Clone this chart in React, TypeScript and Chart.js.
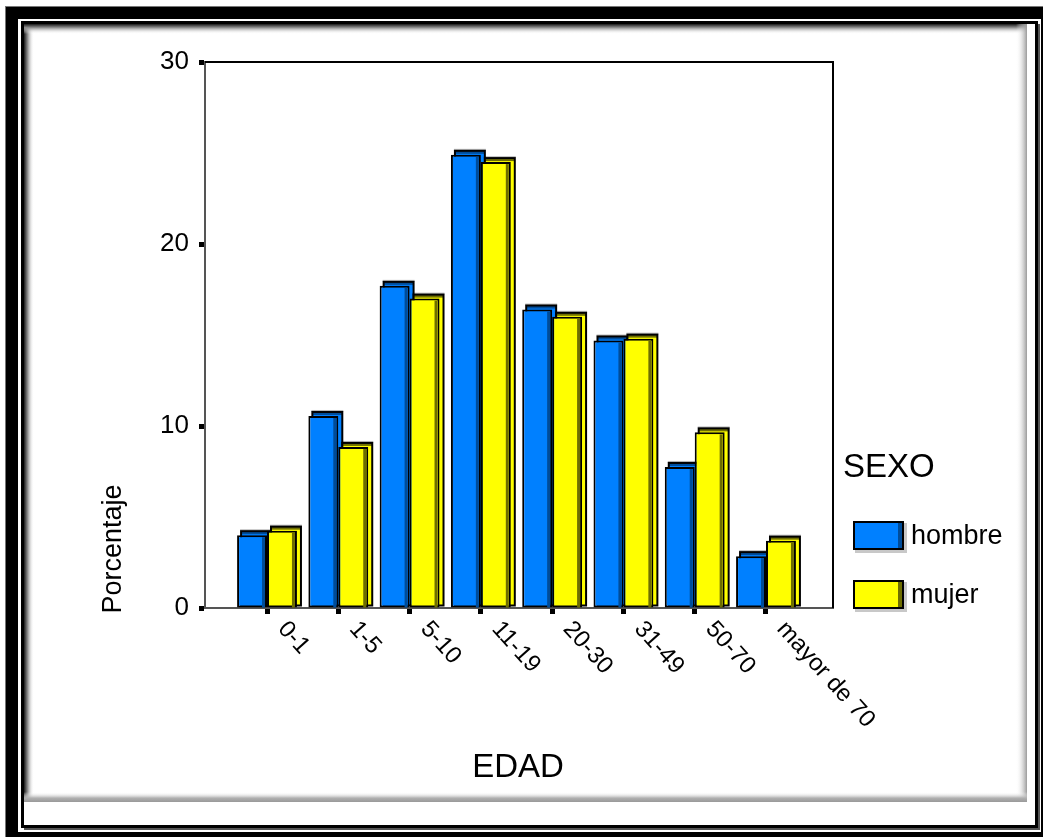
import { useEffect, useRef } from "react";
import { Chart, registerables } from "chart.js";

Chart.register(...registerables);

const categories = ["0-1", "1-5", "5-10", "11-19", "20-30", "31-49", "50-70", "mayor de 70"];
const hombre = [4.0, 10.55, 17.7, 24.9, 16.4, 14.7, 7.75, 2.85];
const mujer = [4.25, 8.85, 17.0, 24.5, 16.0, 14.8, 9.65, 3.7];
const seriesNames = ["hombre", "mujer"];
const yTickValues = [0, 10, 20, 30];
const legendTitle = "SEXO";
const xTitle = "EDAD";
const yTitle = "Porcentaje";

const W = 1043;
const H = 837;
const FONT = '"Liberation Sans", Arial, sans-serif';
const BLUE = "#0080FF";
const YELLOW = "#FFFF00";
const BLUE_DARK = "#004C99";
const YELLOW_DARK = "#6E6E00";

const framePlugin = {
  id: "frame",
  beforeDraw(chart: any) {
    const ctx = chart.ctx as CanvasRenderingContext2D;
    ctx.save();
    ctx.fillStyle = "#fff";
    ctx.fillRect(0, 0, W, H);
    ctx.fillStyle = "#000";
    ctx.fillRect(6, 7, 1037, 12);
    ctx.fillRect(6, 7, 12, 830);
    ctx.fillRect(6, 832, 1037, 5);
    ctx.fillRect(1041, 7, 2, 830);
    ctx.fillStyle = "#777";
    ctx.fillRect(5, 6, 1, 831);
    ctx.fillRect(5, 6, 1038, 1);
    ctx.strokeStyle = "#000";
    ctx.lineWidth = 3;
    ctx.strokeRect(22.5, 22.5, 1014, 804);
    ctx.fillStyle = "#555";
    ctx.fillRect(24, 828, 1016, 2);
    ctx.fillRect(1038, 24, 2, 806);
    let g = ctx.createLinearGradient(24, 0, 34, 0);
    g.addColorStop(0, "#1a1a1a");
    g.addColorStop(0.35, "#8a8a8a");
    g.addColorStop(1, "rgba(255,255,255,0)");
    ctx.fillStyle = g;
    ctx.fillRect(24, 24, 10, 778);
    g = ctx.createLinearGradient(0, 24, 0, 34);
    g.addColorStop(0, "#1a1a1a");
    g.addColorStop(0.35, "#8a8a8a");
    g.addColorStop(1, "rgba(255,255,255,0)");
    ctx.fillStyle = g;
    ctx.fillRect(24, 24, 1003, 10);
    g = ctx.createLinearGradient(1016, 0, 1027, 0);
    g.addColorStop(0, "rgba(255,255,255,0)");
    g.addColorStop(1, "#9a9a9a");
    ctx.fillStyle = g;
    ctx.fillRect(1016, 24, 11, 778);
    g = ctx.createLinearGradient(0, 792, 0, 802);
    g.addColorStop(0, "rgba(255,255,255,0)");
    g.addColorStop(0.6, "#b0b0b0");
    g.addColorStop(1, "#999");
    ctx.fillStyle = g;
    ctx.fillRect(24, 792, 1003, 10);
    ctx.restore();
  },
};

const bars3dPlugin = {
  id: "bars3d",
  beforeDatasetsDraw(chart: any) {
    const ctx = chart.ctx as CanvasRenderingContext2D;
    ctx.save();
    chart.data.datasets.forEach((ds: any, di: number) => {
      const meta = chart.getDatasetMeta(di);
      meta.data.forEach((el: any) => {
        const p = el.getProps(["x", "y", "base", "width"], true);
        const l = p.x - p.width / 2 + 4;
        const r = p.x + p.width / 2 + 4;
        const t = p.y - 4;
        const b = p.base - 2;
        ctx.fillStyle = "rgba(0,0,0,0.25)";
        ctx.fillRect(l - 1, t - 2, r - l + 2, 2);
        ctx.fillStyle = ds.backgroundColor;
        ctx.fillRect(l, t, r - l, b - t);
        ctx.fillStyle = di === 0 ? BLUE_DARK : YELLOW_DARK;
        ctx.fillRect(l, t, r - l, 3);
        ctx.strokeStyle = "#000";
        ctx.lineWidth = 2;
        ctx.strokeRect(l, t, r - l, b - t);
      });
    });
    ctx.restore();
  },
  afterDatasetsDraw(chart: any) {
    const ctx = chart.ctx as CanvasRenderingContext2D;
    ctx.save();
    chart.data.datasets.forEach((ds: any, di: number) => {
      const meta = chart.getDatasetMeta(di);
      meta.data.forEach((el: any) => {
        const p = el.getProps(["x", "y", "base", "width"], true);
        const r = p.x + p.width / 2;
        ctx.fillStyle = di === 0 ? BLUE_DARK : YELLOW_DARK;
        ctx.fillRect(r - 5, p.y + 2, 3, p.base - p.y - 2);
      });
    });
    ctx.restore();
  },
};

const decorPlugin = {
  id: "decor",
  afterDraw(chart: any) {
    const ctx = chart.ctx as CanvasRenderingContext2D;
    const a = chart.chartArea;
    const xs = chart.scales.x;
    ctx.save();
    ctx.strokeStyle = "#000";
    ctx.lineWidth = 2;
    ctx.beginPath();
    ctx.moveTo(a.left, a.top);
    ctx.lineTo(a.right, a.top);
    ctx.lineTo(a.right, a.bottom);
    ctx.stroke();
    ctx.fillStyle = "#000";
    ctx.font = `24px ${FONT}`;
    ctx.textAlign = "left";
    ctx.textBaseline = "middle";
    categories.forEach((c, i) => {
      const px = xs.getPixelForValue(i);
      ctx.save();
      ctx.translate(px + 15, a.bottom + 17);
      ctx.rotate((48 * Math.PI) / 180);
      ctx.fillText(c, 0, 0);
      ctx.restore();
    });
    ctx.font = `33px ${FONT}`;
    ctx.textAlign = "center";
    ctx.fillText(xTitle, 518, 768);
    ctx.save();
    ctx.translate(114, 549);
    ctx.rotate(-Math.PI / 2);
    ctx.font = `27px ${FONT}`;
    ctx.fillText(yTitle, 0, 0);
    ctx.restore();
    ctx.textAlign = "left";
    ctx.font = `33px ${FONT}`;
    ctx.fillText(legendTitle, 843, 468);
    const colors = [BLUE, YELLOW];
    const darks = [BLUE_DARK, YELLOW_DARK];
    const boxY = [521, 580];
    ctx.font = `27px ${FONT}`;
    seriesNames.forEach((n, i) => {
      const y = boxY[i];
      ctx.fillStyle = "#c8c8c8";
      ctx.fillRect(855, y + 2, 52, 30);
      ctx.fillStyle = colors[i];
      ctx.fillRect(853, y, 51, 29);
      ctx.fillStyle = darks[i];
      ctx.fillRect(898, y + 1, 4, 27);
      ctx.strokeStyle = "#000";
      ctx.lineWidth = 2;
      ctx.strokeRect(854, y + 1, 49, 27);
      ctx.fillStyle = "#000";
      ctx.fillText(n, 911, y + 16);
    });
    ctx.restore();
  },
};

export default function App() {
  const ref = useRef<HTMLCanvasElement | null>(null);
  useEffect(() => {
    if (!ref.current) return;
    const chart = new Chart(ref.current, {
      type: "bar",
      data: {
        datasets: [
          {
            label: seriesNames[0],
            data: hombre.map((v, i) => ({ x: i, y: v })),
            backgroundColor: BLUE,
            borderColor: "#000",
            borderWidth: 2,
            borderSkipped: false,
          },
          {
            label: seriesNames[1],
            data: mujer.map((v, i) => ({ x: i, y: v })),
            backgroundColor: YELLOW,
            borderColor: "#000",
            borderWidth: 2,
            borderSkipped: false,
          },
        ],
      },
      options: {
        animation: false,
        responsive: false,
        devicePixelRatio: 1,
        layout: { padding: { left: 0, top: 62, right: 210, bottom: 219 } },
        datasets: { bar: { categoryPercentage: 0.84, barPercentage: 1 } },
        plugins: { legend: { display: false }, tooltip: { enabled: false }, title: { display: false } },
        scales: {
          x: {
            type: "linear",
            min: -0.87,
            max: 7.94,
            offset: false,
            afterBuildTicks: (s: any) => {
              s.ticks = categories.map((_, i) => ({ value: i }));
            },
            ticks: { display: false },
            grid: {
              drawOnChartArea: false,
              drawTicks: true,
              tickLength: 6,
              tickWidth: 5,
              tickColor: "#000",
              offset: false,
            },
            border: { display: true, color: "#555", width: 2 },
            afterFit: (s: any) => {
              s.height = 10;
            },
          },
          y: {
            min: 0,
            max: 30,
            afterBuildTicks: (s: any) => {
              s.ticks = yTickValues.map((v) => ({ value: v }));
            },
            ticks: { color: "#000", font: { family: FONT, size: 26 }, padding: 10 },
            grid: {
              drawOnChartArea: false,
              drawTicks: true,
              tickLength: 6,
              tickWidth: 5,
              tickColor: "#000",
            },
            border: { display: true, color: "#555", width: 2 },
            afterFit: (s: any) => {
              s.width = 205;
            },
          },
        },
      } as any,
      plugins: [framePlugin, bars3dPlugin, decorPlugin],
    });
    return () => chart.destroy();
  }, []);
  return (
    <div style={{ position: "absolute", left: 0, top: 0, width: W, height: H }}>
      <canvas ref={ref} width={W} height={H} style={{ display: "block" }} />
    </div>
  );
}
